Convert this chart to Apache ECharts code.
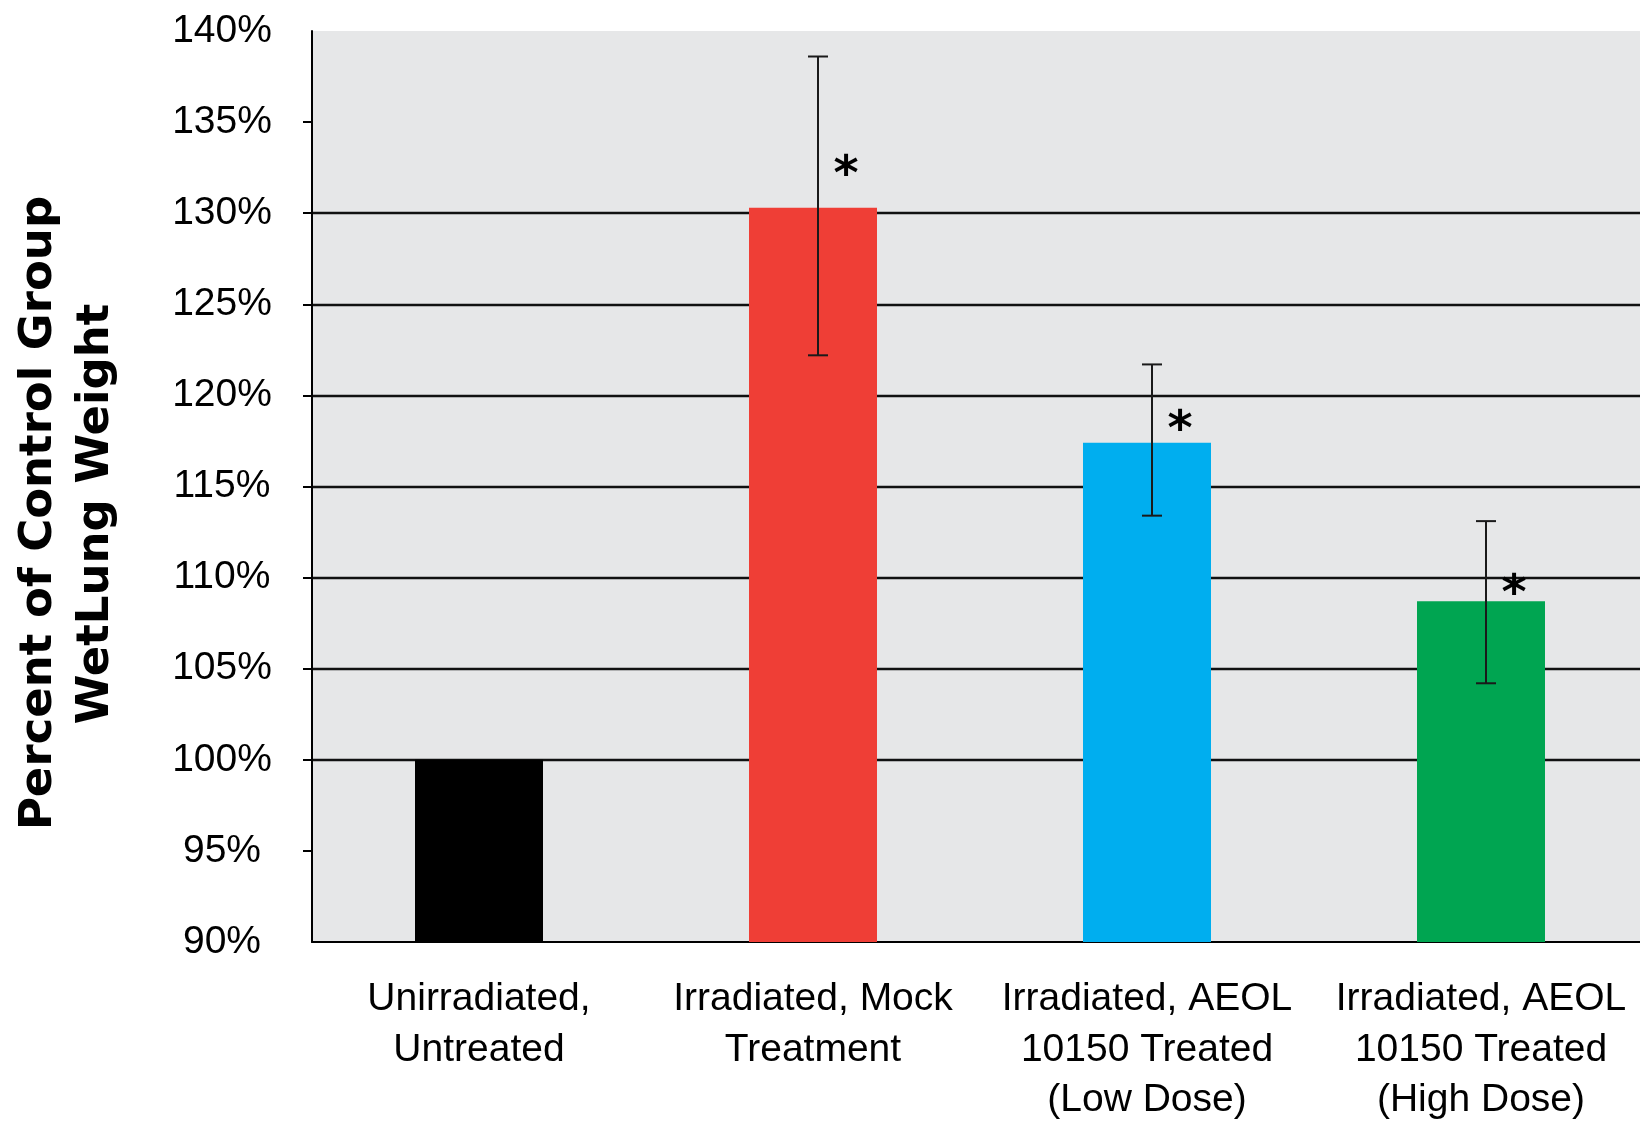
<!DOCTYPE html>
<html>
<head>
<meta charset="utf-8">
<style>
  html, body { margin: 0; padding: 0; background: #ffffff; }
  #chart { width: 1640px; height: 1121px; }
</style>
<script src="https://cdn.jsdelivr.net/npm/echarts@6/dist/echarts.min.js"></script>
</head>
<body>
<div id="chart"></div>
<script>
// ---- data ----
const categories = [
  'Unirradiated,\nUntreated',
  'Irradiated, Mock\nTreatment',
  'Irradiated, AEOL\n10150 Treated\n(Low Dose)',
  'Irradiated, AEOL\n10150 Treated\n(High Dose)'
];
const values = [100, 130.3, 117.4, 108.7];
const errLow = [null, 122.2, 113.4, 104.2];
const errHigh = [null, 138.6, 121.7, 113.1];
const starValues = [null, 132.5, 118.5, 109.5];
const barColors = ['#000000', '#EF3E36', '#00AEEF', '#00A551'];
const yTickValues = [95, 100, 105, 110, 115, 120, 125, 130, 135];
const yTitleLines = ['Percent of Control Group', 'WetLung Weight'];

// ---- build ----
const barData = values.map((v, i) => ({ value: v, itemStyle: { color: barColors[i] } }));
const errData = [];
const starData = [];
categories.forEach((c, i) => {
  if (errLow[i] != null) errData.push([i, errLow[i], errHigh[i]]);
  if (starValues[i] != null) starData.push([i, starValues[i]]);
});

const chart = echarts.init(document.getElementById('chart'), null, { renderer: 'canvas' });

const labelFont = 'Liberation Sans';

chart.setOption({
  animation: false,
  backgroundColor: '#ffffff',
  grid: {
    left: 312, top: 31, width: 1336, height: 911,
    show: true, backgroundColor: '#E6E7E8', borderWidth: 0,
    containLabel: false, outerBoundsMode: 'none'
  },
  xAxis: {
    type: 'category',
    data: categories,
    axisLine: { show: true, lineStyle: { color: '#000', width: 2 } },
    axisTick: { show: false },
    axisLabel: {
      interval: 0, color: '#000', fontFamily: labelFont, fontSize: 39,
      lineHeight: 50.5, margin: 32
    },
    splitLine: { show: false }
  },
  yAxis: {
    type: 'value',
    min: 90, max: 140, interval: 5,
    axisLine: { show: true, lineStyle: { color: '#000', width: 2 } },
    axisTick: { show: true, length: 9, customValues: yTickValues, lineStyle: { color: '#000', width: 2 } },
    splitLine: { show: true, showMinLine: false, showMaxLine: false, lineStyle: { color: '#111', width: 2.4 } },
    axisLabel: {
      formatter: '{value}%', color: '#000', fontFamily: labelFont, fontSize: 39,
      align: 'center', margin: 90
    }
  },
  graphic: [
    {
      type: 'text', x: 39, y: 513, rotation: Math.PI / 2,
      style: { text: yTitleLines[0], fill: '#000', fontFamily: 'DejaVu Sans', fontWeight: 'bold', fontSize: 45, align: 'center', verticalAlign: 'middle' }
    },
    {
      type: 'text', x: 96, y: 514, rotation: Math.PI / 2,
      style: { text: yTitleLines[1], fill: '#000', fontFamily: 'DejaVu Sans', fontWeight: 'bold', fontSize: 45, align: 'center', verticalAlign: 'middle' }
    }
  ],
  series: [
    {
      type: 'bar',
      data: barData,
      barWidth: 128,
      z: 2
    },
    {
      type: 'custom',
      z: 5,
      data: errData,
      renderItem: function (params, api) {
        const lo = api.coord([api.value(0), api.value(1)]);
        const hi = api.coord([api.value(0), api.value(2)]);
        const x = lo[0] + 5;
        const cap = 10;
        const st = { stroke: '#1a1a1a', lineWidth: 2 };
        return {
          type: 'group',
          children: [
            { type: 'line', shape: { x1: x, y1: hi[1], x2: x, y2: lo[1] }, style: st },
            { type: 'line', shape: { x1: x - cap, y1: hi[1], x2: x + cap, y2: hi[1] }, style: st },
            { type: 'line', shape: { x1: x - cap, y1: lo[1], x2: x + cap, y2: lo[1] }, style: st }
          ]
        };
      }
    },
    {
      type: 'custom',
      z: 6,
      data: starData,
      renderItem: function (params, api) {
        const p = api.coord([api.value(0), api.value(1)]);
        return {
          type: 'text',
          x: p[0] + 33, y: p[1] + 9,
          style: { text: '*', fill: '#000', fontFamily: 'DejaVu Sans', fontWeight: 'bold', fontSize: 48, align: 'center', verticalAlign: 'middle' }
        };
      }
    }
  ]
});
</script>
</body>
</html>
